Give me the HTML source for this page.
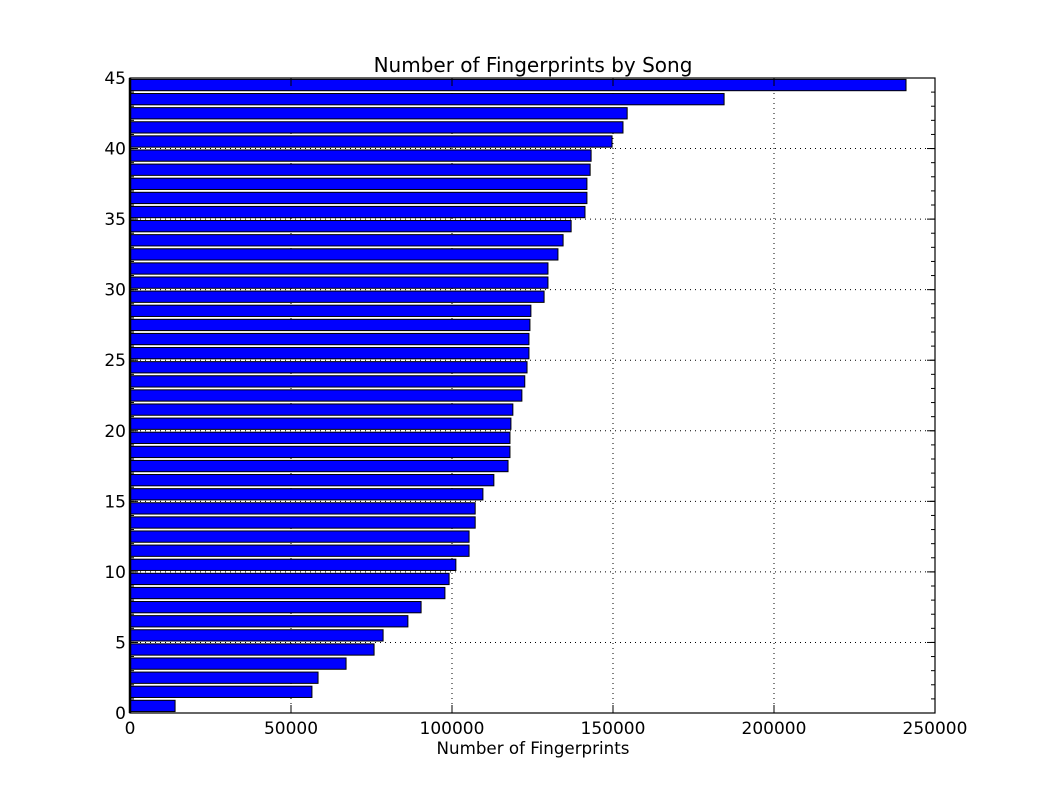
<!DOCTYPE html>
<html><head><meta charset="utf-8"><style>
body{margin:0;background:#fff;}
svg text{font-family:"DejaVu Sans","Liberation Sans",sans-serif;}
</style></head><body>
<svg id="chart" width="1040" height="793">
<rect width="1040" height="793" fill="#fff"/>
<text x="533" y="72" text-anchor="middle" font-size="20">Number of Fingerprints by Song</text>
<text x="533" y="754" text-anchor="middle" font-size="16.7">Number of Fingerprints</text>
<g id="grid"></g><g id="bars"></g><g id="ticks"></g>
<rect x="130" y="78" width="805" height="635" fill="none" stroke="#000" stroke-width="1.2"/>
<line x1="130" y1="78" x2="130" y2="713" stroke="#000" stroke-width="2.5"/>
</svg>
<script>
const songIndex = [...Array(45).keys()];
const fingerprints = [14000,56500,58400,67100,75800,78600,86300,90400,97800,99100,101200,105300,105300,107200,107200,109600,113000,117400,118000,118000,118300,118900,121700,122600,123300,123900,123900,124200,124500,128600,129800,129800,132900,134500,137000,141300,141900,141900,142900,143200,149700,153100,154400,184500,241000];
const xTicks = [0,50000,100000,150000,200000,250000];
const yTicks = [0,5,10,15,20,25,30,35,40,45];
const L=130,R=935,T=78,B=713;
const xs=v=>L+v/250000*(R-L);
const ys=v=>B-v/45*(B-T);
const NS='http://www.w3.org/2000/svg';
function mk(tag,attrs,parent){const e=document.createElementNS(NS,tag);for(const k in attrs)e.setAttribute(k,attrs[k]);document.getElementById(parent).appendChild(e);return e;}
xTicks.forEach(t=>{
  const g=mk('line',{x1:xs(t),x2:xs(t),y1:T,y2:B,stroke:'#000','stroke-dasharray':'1,4','stroke-width':1},'grid');
  
  
  mk('line',{x1:xs(t),x2:xs(t),y1:B,y2:B-8,stroke:'#000'},'ticks');
  mk('line',{x1:xs(t),x2:xs(t),y1:T,y2:T+8,stroke:'#000'},'ticks');
  const tx=mk('text',{x:xs(t),y:B+21,'text-anchor':'middle','font-size':17},'ticks');
  tx.textContent=t;
  
  
});
yTicks.forEach(t=>{
  const g=mk('line',{x1:L,x2:R,y1:ys(t),y2:ys(t),stroke:'#000','stroke-dasharray':'1,4','stroke-width':1},'grid');
  
  
  mk('line',{x1:L,x2:L+8,y1:ys(t),y2:ys(t),stroke:'#000'},'ticks');
  mk('line',{x1:R,x2:R-8,y1:ys(t),y2:ys(t),stroke:'#000'},'ticks');
  const tx=mk('text',{x:L-4,y:ys(t)+6,'text-anchor':'end','font-size':17},'ticks');
  tx.textContent=t;
  
  
});
for(let i=0;i<=45;i++){
  mk('line',{x1:L,x2:L+4,y1:ys(i),y2:ys(i),stroke:'#000'},'ticks');
  mk('line',{x1:R,x2:R-4,y1:ys(i),y2:ys(i),stroke:'#000'},'ticks');
}
songIndex.forEach((s,i)=>{
  const v=fingerprints[i];
  const r=mk('rect',{x:xs(0),y:ys(s+0.9),width:xs(v)-xs(0),height:ys(s+0.1)-ys(s+0.9),fill:'#0000ff',stroke:'#000','stroke-width':1},'bars');
  
  
});
</script>
</body></html>
